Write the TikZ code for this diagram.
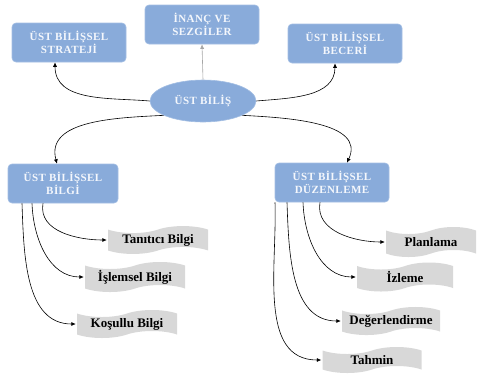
\documentclass[tikz,border=0pt]{standalone}
\usepackage{fontspec}
\setmainfont{Liberation Serif}
\usetikzlibrary{shapes.geometric,shapes.symbols,arrows.meta}
\definecolor{boxblue}{HTML}{89ABDA}
\definecolor{boxedge}{HTML}{A3BEE3}
\definecolor{flaggray}{HTML}{D8D8D8}
\definecolor{txtwhite}{HTML}{F4F7FC}
\tikzset{
  bluebox/.style={rectangle, rounded corners=4pt, fill=boxblue, draw=boxedge, line width=0.6pt,
    minimum width=114pt, minimum height=39pt, inner sep=1pt, align=center,
    text=txtwhite, font=\fontsize{11}{12.5}\selectfont\bfseries\addfontfeature{LetterSpace=4}},
  blueell/.style={ellipse, fill=boxblue, draw=boxedge, line width=0.6pt,
    minimum width=106pt, minimum height=42pt, inner sep=0pt,
    text=txtwhite, font=\fontsize{11}{12.5}\selectfont\bfseries\addfontfeature{LetterSpace=4}},
  flag/.style={tape, tape bend height=7pt, fill=flaggray, draw=none,
    minimum width=100pt, minimum height=28pt, inner sep=1pt,
    text=black, font=\fontsize{13}{14}\selectfont\bfseries},
  conn/.style={-{Latex[length=4.5pt,width=4pt]}, line width=0.6pt, black},
}
\begin{document}
\begin{tikzpicture}[x=1pt,y=-1pt]
\useasboundingbox (0,0) rectangle (478,373);
\node[bluebox] (strat) at (69,42.5) {ÜST BİLİŞSEL\\STRATEJİ};
\node[bluebox] (inanc) at (202,24.5) {İNANÇ VE\\SEZGİLER};
\node[bluebox] (beceri) at (345,43.5) {ÜST BİLİŞSEL\\BECERİ};
\node[blueell] (ust) at (203,101) {ÜST BİLİŞ};
\node[bluebox, minimum width=110pt] (bilgi) at (63,183.5) {ÜST BİLİŞSEL\\BİLGİ};
\node[bluebox] (duzen) at (332,182.5) {ÜST BİLİŞSEL\\DÜZENLEME};

\node[flag, minimum height=26pt] (tan) at (158,240) {Tanıtıcı Bilgi};
\node[flag, minimum height=29pt] (isl) at (135,277) {İşlemsel Bilgi};
\node[flag] (kos) at (127,324) {Koşullu Bilgi};
\node[flag, minimum width=90pt, minimum height=30pt] (plan) at (431,242) {Planlama};
\node[flag, minimum width=96pt, minimum height=29pt] (izl) at (405,277) {İzleme};
\node[flag, minimum width=98pt] (deg) at (391,321) {Değerlendirme};
\node[flag, minimum width=99pt, minimum height=26pt] (tah) at (372,360) {Tahmin};

\draw[conn] (ust.west) to[out=175,in=-90] ([xshift=-14pt]strat.south);
\draw[conn, draw=gray!70] (ust.north) -- (inanc.south);
\draw[conn] (ust.east) to[out=5,in=-90] ([xshift=-10pt]beceri.south);
\draw[conn] (ust.200) to[out=183,in=105] ([xshift=-6pt]bilgi.north);
\draw[conn] (ust.-20) to[out=-3,in=65] ([xshift=15pt]duzen.north);

\draw[conn, shorten >=1pt] ([xshift=-20pt]bilgi.south) to[out=-100,in=180] (tan.west);
\draw[conn, shorten >=1pt] ([xshift=-31pt]bilgi.south) to[out=-88,in=180] (isl.west);
\draw[conn, shorten >=1pt] ([xshift=-41pt]bilgi.south) to[out=-88,in=180] (kos.west);
\draw[conn, shorten >=1pt] ([xshift=-12pt]duzen.south) to[out=-100,in=180] (plan.west);
\draw[conn, shorten >=1pt] ([xshift=-29pt]duzen.south) to[out=-88,in=180] (izl.west);
\draw[conn, shorten >=1pt] ([xshift=-45pt]duzen.south) to[out=-88,in=180] (deg.west);
\draw[conn, shorten >=1pt] ([xshift=-57pt]duzen.south) to[out=-88,in=180] (tah.west);
\end{tikzpicture}
\end{document}
